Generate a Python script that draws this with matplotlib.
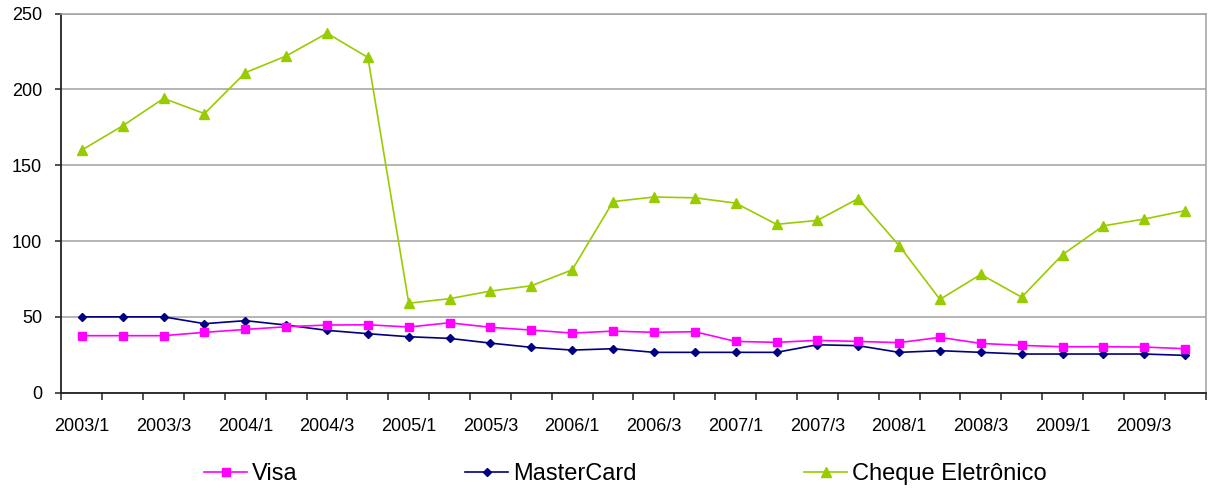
import matplotlib
matplotlib.use("Agg")
from matplotlib import pyplot as plt

plt.rcParams['font.family'] = ['Liberation Sans', 'DejaVu Sans']

# quarters 2003/1 .. 2009/4
quarters = [f"{y}/{q}" for y in range(2003, 2010) for q in range(1, 5)]

visa = [37.6, 37.6, 37.6, 39.8, 41.7, 43.5, 44.6, 44.8, 43.3, 46.1, 43.1, 41.3, 39.3, 40.6,
        39.8, 40.2, 33.8, 33.2, 34.5, 33.8, 33.0, 36.5, 32.5, 31.2, 30.3, 30.3, 30.1, 29.0]
mastercard = [50.0, 50.0, 50.0, 45.5, 47.5, 44.6, 41.1, 38.9, 36.9, 35.8, 32.7, 29.9, 28.1, 29.0,
              26.6, 26.6, 26.6, 26.6, 31.6, 31.0, 26.6, 27.7, 26.6, 25.5, 25.5, 25.5, 25.5, 24.6]
cheque = [160, 176, 194, 184, 211, 222, 237, 221, 59, 62, 67, 70.5, 81, 126,
          129, 128.5, 125, 111, 113.6, 128, 97, 61.5, 78, 63, 91, 110, 114.5, 120]

x = list(range(len(quarters)))

fig = plt.figure(figsize=(12.1, 4.91), dpi=100)
ax = fig.add_axes([0.0508, 0.2002, 0.9455, 0.7723])

ax.plot(x, cheque, color="#99CC00", lw=1.2, marker="^", markersize=6.5, label="Cheque Eletrônico", zorder=3)
ax.plot(x, mastercard, color="#000080", lw=1.2, marker="D", markersize=4, label="MasterCard", zorder=4)
ax.plot(x, visa, color="#FF00FF", lw=1.2, marker="s", markersize=6, label="Visa", zorder=5)

ax.set_xlim(-0.5, len(quarters) - 0.5)
ax.set_ylim(0, 250)
ax.set_yticks(range(0, 251, 50))
ax.yaxis.grid(True, color="#A0A0A0", lw=1.1)
ax.set_axisbelow(True)

ax.set_xticks(x[::2])
ax.set_xticklabels(quarters[::2])
ax.set_xticks([i - 0.5 for i in range(len(quarters) + 1)], minor=True)
ax.tick_params(axis="x", which="major", length=0, pad=18, labelsize=13)
ax.tick_params(axis="x", which="minor", length=5, width=1.1, direction="out", color="#222222")
ax.tick_params(axis="y", length=4, width=1.1, pad=10, labelsize=13, color="#222222")

for s in ["left", "bottom"]:
    ax.spines[s].set_color("#222222")
    ax.spines[s].set_linewidth(1.3)
for s in ["top", "right"]:
    ax.spines[s].set_color("#A0A0A0")
    ax.spines[s].set_linewidth(1.1)

h, l = ax.get_legend_handles_labels()
order = [2, 1, 0]
fig.legend([h[i] for i in order], [l[i] for i in order], loc="center",
           bbox_to_anchor=(0.517, 0.034), ncol=3, frameon=False, fontsize=17,
           handlelength=1.82, handletextpad=0.21, columnspacing=7.1)

fig.savefig("out.png", dpi=100)
